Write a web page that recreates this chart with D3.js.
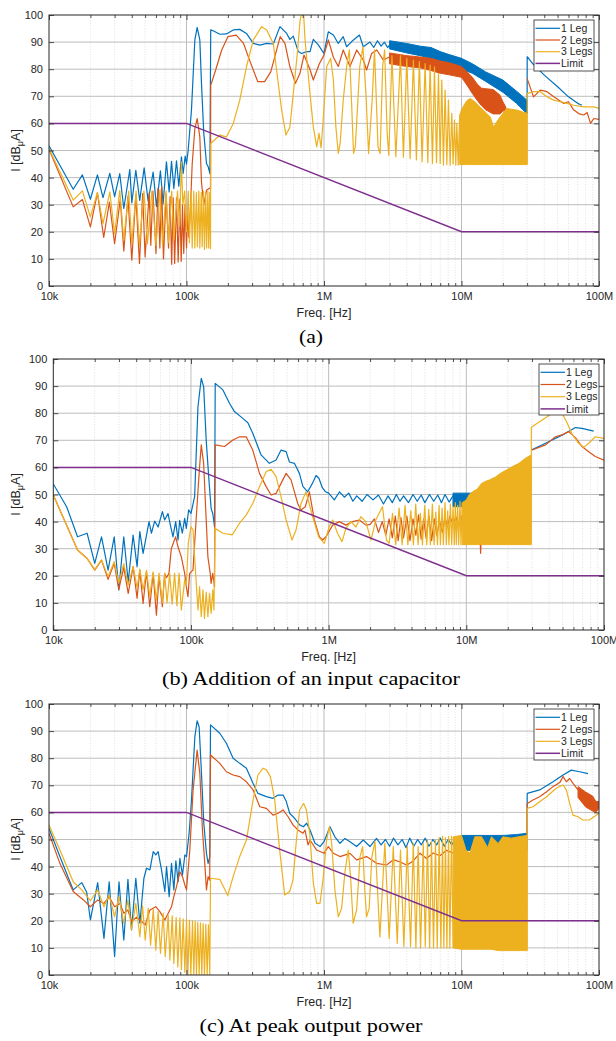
<!DOCTYPE html>
<html>
<head>
<meta charset="utf-8">
<script src="https://d3js.org/d3.v7.min.js"></script>
<style>
body {margin: 0; background: #fff;}
svg text {font-family: "Liberation Sans", Arial, Helvetica, sans-serif; fill: #262626;}
.cap {font-family: "Liberation Serif", "Times New Roman", serif; fill: #000;}
</style>
</head>
<body>
<svg id="fig" width="616" height="1041"></svg>
<script type="text/javascript">
// axis ticks / labels
var freqTicks = [1e4, 1e5, 1e6, 1e7, 1e8];
var freqLabels = ["10k", "100k", "1M", "10M", "100M"];
var levelTicks = [0, 10, 20, 30, 40, 50, 60, 70, 80, 90, 100];
var seriesNames = ["1 Leg", "2 Legs", "3 Legs", "Limit"];
var captions = ["(a)", "(b) Addition of an input capacitor", "(c) At peak output power"];

// limit line (same on all three plots)
var limitLine = [[1e4,60],[1e5,60],[1e7,20],[1e8,20]];

// ---------- (a) ----------
// null = gap, the dense part is in the band arrays [f, low, high]
var a1Line = [[10e3,51.7],[15e3,35.7],[17.5e3,41],[20e3,32],[22.5e3,41],[24.7e3,32.6],[27.7e3,41.6],[30e3,33],[32.7e3,41.5],[35e3,28.6],[38.7e3,43],[40e3,30.7],[42.8e3,42.7],[45.7e3,31.6],[49.2e3,43.6],[52.6e3,31.3],[57.2e3,42],[60.5e3,29.4],[64.6e3,42.5],[67.6e3,30.4],[71.5e3,45.8],[74.8e3,34.7],[77.8e3,46],[80.9e3,36],[84.6e3,46.2],[87.9e3,36.8],[91.9e3,47.7],[94.6e3,41.5],[97.8e3,47.9],[100e3,45],[102.8e3,50],[108.7e3,65],[115e3,90.8],[119.6e3,95.4],[125e3,90.8],[128.5e3,74.8],[133.6e3,56.3],[139.8e3,45.2],[143.8e3,44],[148e3,41.5],[150e3,94.5],[156e3,94.2],[175e3,92.9],[195e3,93],[219e3,94.5],[244e3,94.7],[273e3,93.2],[306e3,89.5],[342e3,88.9],[383e3,89.5],[428e3,89.3],[478e3,95.7],[535e3,93.2],[565e3,91],[598e3,92.2],[650e3,86.5],[687e3,85.8],[748e3,86.5],[791e3,86.5],[836e3,91],[909e3,89],[1.0e6,85.8],[1.075e6,93.8],[1.17e6,92.6],[1.27e6,89.5],[1.38e6,92],[1.46e6,88.3],[1.59e6,90.2],[1.81e6,92.6],[1.93e6,88.3],[2.16e6,90],[2.3e6,88],[2.45e6,90.5],[2.6e6,88.5],[2.75e6,90],[2.9e6,88],[3e6,89],
  null,
  [30e6,63.5],[30.05e6,84.6],[33e6,82],[40e6,77.8],[50e6,73.5],[60e6,69.8],[70e6,67.4],[75e6,66.7]];
var a1Band = [[3e6,87.5,90.5],[4e6,86,89.5],[5e6,85,88.5],[6e6,84,88],[7e6,83,86.5],[8e6,82,85.5],[10e6,80,84],[12e6,78.5,82],[15e6,75.5,79],[20e6,71.5,76],[25e6,67.5,72],[30e6,63.5,68.5]];

var a2Line = [[10e3,50.5],[15e3,29.2],[17.5e3,31.9],[20e3,21.8],[22.5e3,34.4],[25e3,17.9],[27.5e3,31],[30e3,15.6],[33e3,32],[35e3,12.9],[37.5e3,33],[40e3,9.5],[42.8e3,33.5],[45.5e3,8.3],[48e3,34.1],[50e3,10.7],[53.5e3,34.4],[55e3,15],[57e3,35],[60e3,12],[62e3,36],[64e3,14],[66e3,36.6],[68e3,10],[71e3,34],[74e3,14],[76e3,33],[78e3,8],[80e3,32.5],[82e3,8.3],[84.6e3,32.5],[87e3,8.9],[89.4e3,32],[91.5e3,9.1],[93.5e3,30],[95.5e3,12],[97.6e3,30],[100e3,14],[102e3,27],[104e3,18],[107e3,30],[110e3,45],[115e3,58],[119.6e3,61.8],[125e3,55],[128.5e3,38.4],[133.6e3,30],[139.8e3,35.3],[146e3,36],[149.5e3,36],[150e3,74.1],[163e3,79.7],[180e3,87],[200e3,92],[230e3,92.6],[260e3,89.5],[290e3,82.8],[330e3,75.4],[370e3,75.4],[410e3,79],[480e3,92],[520e3,89.5],[565e3,80.9],[620e3,74.8],[668e3,78.4],[715e3,85.2],[790e3,80],[836e3,76],[925e3,82],[1e6,85.2],[1.075e6,90.8],[1.17e6,84.4],[1.27e6,81],[1.38e6,87.1],[1.545e6,81],[1.73e6,87.1],[1.93e6,83.4],[2.04e6,79.7],[2.22e6,85.8],[2.42e6,87.1],[2.7e6,83.4],[3.02e6,84.6],
  null,
  [30e6,76.6],[33.4e6,69.8],[37.4e6,72.3],[41.9e6,71.7],[46.9e6,69.8],[55.1e6,67.4],[60e6,68],[65.3e6,65],[72e6,63.5],[77.4e6,63.1],[82e6,64],[86.8e6,60],[91.7e6,61.8],[100e6,61.5]];
var a2Band = [[3e6,82,86],[4e6,81,85],[5e6,80.5,84.5],[6e6,79.5,84],[7e6,78.5,83],[8e6,78,82.5],[10e6,77,81],[11e6,74,79],[12e6,71,77],[13e6,68.5,74.5],[14e6,66.5,73],[15e6,65,72.8],[17e6,63.5,72.5],[19e6,63.5,70.5],[20e6,64.5,68],[21e6,65,66]];

var a3Line = [[10e3,50.7],[15e3,31.7],[17.5e3,35.1],[20e3,25.5],[22.5e3,34.5],[24.7e3,23],[27.7e3,34.7],[30e3,19.3],[32.7e3,35.3],[35e3,17],[38e3,35],[40e3,15.5],[43e3,35],[45.5e3,15],[49e3,35],[52e3,15.5],[56e3,35],[60e3,15],[64e3,35.5],[67e3,15],[71e3,35],[74e3,16],[78e3,35],[81e3,17],[86e3,35],[89e3,22],[91.9e3,45.8],[94e3,30],[97e3,35],[100e3,20],[103e3,35],[105e3,16],[108e3,35],[110e3,14],[113e3,35],[115e3,14],[118e3,34.5],[120e3,14.5],[123e3,35],[125e3,14],[128e3,34.5],[130e3,14.5],[133e3,35],[135e3,13.5],[138e3,34.5],[140e3,14],[143e3,35],[145e3,14],[147.5e3,34.5],[149.5e3,13.8],[150e3,52.6],[175e3,55.7],[195e3,55],[219e3,60],[244e3,68.6],[273e3,80.9],[306e3,90.8],[352e3,95.7],[383e3,94.5],[428e3,89.5],[452e3,79.7],[492e3,64.9],[529e3,55.7],[565e3,58.7],[598e3,71],[643e3,87.1],[670e3,98],[690e3,101],[710e3,101],[728e3,90.8],[782e3,73.5],[836e3,58.7],[885e3,51.4],[920e3,56.3],[951e3,51],[978e3,58.7],[1.046e6,80.9],[1.118e6,84],[1.17e6,76],[1.22e6,58.7],[1.27e6,48.9],[1.31e6,52.6],[1.38e6,68.6],[1.46e6,80.9],[1.53e6,87.1],[1.59e6,66.5],[1.64e6,48.9],[1.69e6,51.4],[1.82e6,80.9],[1.92e6,88.3],[2.02e6,70.8],[2.11e6,48.9],[2.24e6,68.6],[2.33e6,87.1],[2.47e6,51.4],[2.56e6,48.9],[2.67e6,80.9],[2.76e6,87.1],[2.88e6,56.3],[2.96e6,48.3],[3.12e6,85],[3.33e6,47.7],[3.6e6,85],[3.78e6,47.5],[4.0e6,84],[4.23e6,47],[4.47e6,83.4],[4.7e6,46.5],[4.94e6,82.8],[5.17e6,45.8],[5.44e6,82.1],[5.69e6,45.5],[5.91e6,81.5],[6.15e6,45.2],[6.36e6,80.9],[6.58e6,45.5],[6.8e6,78.4],[7.0e6,45.2],[7.19e6,76],[7.39e6,44.6],[7.6e6,72.3],[7.82e6,44.8],[8.04e6,68.6],[8.27e6,44.6],[8.5e6,63.7],[8.69e6,45],[8.89e6,61.2],[9.09e6,44.6],[9.25e6,60],[9.46e6,44.6],[9.7e6,63],
  null,
  [30e6,44.8],[30.05e6,71],[33.4e6,71.7],[37.4e6,71.7],[41.9e6,69.8],[46.9e6,68.6],[52.5e6,68],[58.5e6,67.4],[65.3e6,66.7],[77.4e6,66.1],[91.7e6,66.1],[100e6,65.5]];
var a3Band = [[9.7e6,44.8,63],[10e6,44.8,65],[10.5e6,44.8,67],[11e6,44.8,68.5],[11.6e6,44.8,69.2],[12.5e6,44.8,68],[13.6e6,44.8,66.1],[15e6,44.8,64],[16.2e6,44.8,62.4],[17.1e6,44.8,58.7],[18e6,44.8,60.5],[19.1e6,44.8,62.4],[21.3e6,44.8,65.5],[25.3e6,44.8,64.9],[30e6,44.8,63.7]];

// ---------- (b) ----------
var b1Line = [[10e3,53.9],[12.5e3,45.5],[15e3,34.4],[17.6e3,35.7],[20e3,24.6],[22.4e3,34.4],[25e3,22.1],[27.7e3,34.4],[29.9e3,14.8],[32.5e3,34.4],[35e3,17.8],[38e3,35],[40.6e3,23.4],[42.5e3,36.3],[44.9e3,28.3],[49.6e3,40],[51.6e3,35.7],[54.5e3,40.2],[57.7e3,38],[62e3,43.7],[64.4e3,40.6],[68.1e3,43],[70e3,40],[74e3,34.4],[77.4e3,40],[80.5e3,33.2],[82.8e3,40.5],[86.5e3,35.7],[90e3,41.2],[92.5e3,37.5],[96.2e3,44.3],[100e3,43],[106.3e3,49.2],[112.4e3,82.4],[118.8e3,92.9],[123.6e3,89.8],[129e3,70.1],[135e3,55.4],[140e3,44.9],[144e3,43],[148.3e3,38.1],[150e3,91],[170.6e3,88.6],[190.7e3,83.6],[207e3,80.6],[238e3,78.1],[259e3,76.5],[281e3,72.6],[323e3,64.6],[371e3,61.5],[415e3,62.7],[451e3,66.4],[491e3,65.8],[519e3,62],[564e3,61.5],[613e3,57.8],[650e3,53],[704e3,51],[760e3,54],[810e3,57],[850e3,56],[900e3,52.5],[950e3,51],[1e6,50.5],[1.1e6,48],[1.2e6,51],[1.3e6,49],[1.4e6,50.5],[1.5e6,47.5],[1.6e6,49.5],[1.75e6,47.5],[1.9e6,50],[2.1e6,48],[2.3e6,49.8],[2.5e6,46.5],[2.7e6,49.5],[2.9e6,47],[3.1e6,50],[3.3e6,47.5],[3.5e6,49.5],[3.8e6,47],[4.1e6,50],[4.4e6,47.5],[4.7e6,49.8],[5e6,47],[5.4e6,50],[5.8e6,47.5],[6.2e6,49.8],[6.6e6,47],[7e6,50],[7.5e6,47.2],[8e6,49.5],
  null,
  [29.6e6,66.4],[37.6e6,68.9],[49.6e6,71.9],[62e6,74.7],[69.2e6,74.4],[84.2e6,73.4]];
var b1Band = [[8e6,45.5,50.5],[10e6,45.5,50.5],[12e6,45.5,50.5],[13e6,46,50]];

var b2Line = [[10e3,49.8],[15e3,29.5],[17.6e3,26.4],[20e3,22.1],[22.4e3,25.8],[25e3,18.7],[27.7e3,24.6],[29.9e3,15],[32.5e3,23.1],[35e3,13.5],[38e3,23.4],[40.6e3,11.7],[42.5e3,22.1],[44.9e3,9.8],[47.5e3,21.5],[50.2e3,8.6],[53.1e3,20.9],[56.1e3,5.5],[58.6e3,19.7],[62e3,8.6],[64.4e3,20.9],[66.3e3,19.3],[69.2e3,20.9],[72e3,30.1],[77.4e3,34.4],[80.5e3,30.7],[85.1e3,27],[90e3,20.9],[92.5e3,16],[95.1e3,12.3],[97.8e3,20.9],[103.4e3,22.1],[110.5e3,45.5],[115.5e3,60.3],[118.8e3,68.3],[123.6e3,61.5],[127.7e3,45.5],[132.7e3,27],[138e3,20.9],[140e3,17.2],[144e3,20.9],[148.3e3,16],[150e3,68.3],[175.4e3,67.7],[201.5e3,70.1],[225.3e3,71.3],[251.8e3,71.3],[281e3,66.4],[314.5e3,57.8],[351.6e3,52.9],[382e3,49.8],[415e3,50.4],[451e3,54.1],[491e3,57.8],[533e3,55.4],[596e3,46.7],[630e3,44.3],[677e3,45.5],[725e3,51],[787e3,40.6],[856e3,34.4],[905e3,33.2],[956e3,34.4],[1.07e6,38.7],[1.195e6,40],[1.335e6,38.7],[1.49e6,40],[1.67e6,40.6],[1.865e6,38.7],[2e6,39],[2.15e6,41],[2.3e6,36],[2.45e6,40],[2.6e6,35],[2.75e6,41],[2.9e6,34],[3.05e6,42],[3.2e6,33],[3.35e6,41.5],[3.5e6,34],[3.7e6,42],[3.9e6,33],[4.1e6,41],[4.3e6,35],[4.5e6,42.5],[4.7e6,33.5],[4.9e6,41],[5.1e6,34],[5.35e6,42],[5.6e6,33],[5.85e6,41],[6.1e6,35],[6.4e6,40],[6.7e6,36],[7e6,41.5],[7.3e6,38],[7.6e6,42],[8e6,39],[8.4e6,41.8],[8.8e6,38],[9.2e6,42],[9.6e6,37],[10e6,41],[11e6,38],[12e6,36],[12.5e6,40],[12.7e6,28.3],[12.9e6,38],[13.5e6,36],
  null,
  [30.1e6,66.4],[37.6e6,68.3],[44.4e6,71.3],[49.6e6,72],[55.4e6,73.2],[62e6,71],[69.2e6,67.7],[77.4e6,65.8],[86.5e6,64],[100e6,62.7]];
var b2Band = [];

var b3Line = [[10e3,49.8],[15e3,29.5],[17.6e3,26.4],[20e3,22.3],[22.4e3,25.8],[25e3,19.7],[27.7e3,25.2],[29.9e3,17.2],[32.5e3,24.5],[35e3,16.6],[38e3,23.5],[40.6e3,15.5],[42.5e3,22.5],[44.9e3,14.8],[47.5e3,22],[50.2e3,12.5],[53.1e3,21.5],[56.1e3,11],[58.6e3,21],[62e3,10],[64.4e3,21],[67e3,10],[70e3,21],[73e3,9.5],[76e3,21],[79e3,9],[82e3,21],[85.1e3,7.4],[90e3,18.5],[92.5e3,16.5],[95.6e3,32],[100e3,38.1],[103.4e3,37],[108.1e3,20.9],[112.4e3,7.4],[115.5e3,16],[118.8e3,4.9],[122.2e3,14.8],[125.3e3,4.3],[129e3,14],[132.7e3,4.9],[136.4e3,13.5],[140e3,6.1],[144e3,14.8],[146.8e3,7.4],[149.5e3,37.5],[170.6e3,35.7],[199.4e3,35.1],[225.3e3,39.4],[251.8e3,42.4],[281e3,46.7],[314.5e3,52.9],[351.6e3,58.4],[382e3,59.3],[415e3,56.6],[451e3,49.2],[491e3,40.6],[542e3,33.2],[580e3,36.9],[630e3,46.7],[685e3,51],[766e3,41.8],[846e3,34.4],[930e3,32],[1.01e6,38.1],[1.07e6,40.6],[1.16e6,35.7],[1.25e6,32.6],[1.335e6,37.5],[1.45e6,40],[1.58e6,38],[1.715e6,41.8],[1.86e6,40],[2.03e6,33.2],[2.2e6,40.6],[2.46e6,45.5],[2.63e6,33.2],[2.75e6,32],[2.91e6,43],[3.07e6,31.5],[3.25e6,45],[3.42e6,31.5],[3.59e6,46],[3.76e6,31.5],[3.95e6,44],[4.13e6,31.5],[4.29e6,46.5],[4.46e6,31.5],[4.64e6,43],[4.8e6,31.5],[4.99e6,46],[5.16e6,31.5],[5.33e6,44.5],[5.48e6,31.5],[5.67e6,46.5],[5.83e6,31.5],[6.0e6,43.5],[6.17e6,31.5],[6.34e6,46],[6.48e6,31.5],[6.67e6,45],[6.81e6,31.5],[7.0e6,47],[7.16e6,31.5],[7.32e6,44],[7.48e6,31.5],[7.66e6,46.5],[7.83e6,31.5],[8.0e6,45.5],[8.18e6,31.5],[8.32e6,47],[8.46e6,31.5],[8.65e6,46],[8.8e6,31.5],[9.0e6,47.5],[9.14e6,31.5],[9.35e6,47],
  null,
  [29.6e6,31.5],[29.65e6,74.8],[38.6e6,78.7],[44e6,81],[49.6e6,80],[53.9e6,76.5],[58.6e6,72.3],[65.5e6,68.9],[71.2e6,67.4],[77.4e6,68.9],[86.5e6,71.3],[100e6,70.7]];
var b3Band = [[9.35e6,31.5,47],[10e6,31.5,48],[10.5e6,31.5,50],[11.1e6,31.5,51],[12e6,31.5,52],[12.9e6,31.5,54.1],[14e6,31.5,55],[14.8e6,31.5,55.4],[16.3e6,31.5,56.5],[17.7e6,31.5,57.8],[19.5e6,31.5,59],[21.6e6,31.5,60.3],[24.1e6,31.5,61.5],[26.9e6,31.5,63.4],[29.6e6,31.5,64.6]];

// ---------- (c) ----------
var c1Line = [[10e3,54.1],[12e3,43.7],[15e3,31.4],[17.3e3,34.1],[18.8e3,30.5],[20e3,20.3],[22.6e3,34.1],[25.1e3,13.5],[27.4e3,34.4],[30e3,6.8],[32.3e3,34.4],[35e3,12.9],[37.5e3,35.3],[39.8e3,16.6],[42.8e3,35.7],[45.8e3,19.1],[49e3,35.7],[51.2e3,39.4],[54.2e3,38.8],[57.3e3,45.5],[59.8e3,44.3],[62.2e3,45.5],[65.8e3,38.8],[69.6e3,30.8],[71.6e3,40],[74.8e3,28.9],[77.8e3,41.2],[80.9e3,31.4],[83.7e3,42.1],[86.9e3,34.4],[89.5e3,43],[93.5e3,36.9],[97.3e3,44.3],[100e3,43.7],[104.5e3,52.3],[108.7e3,64.6],[115e3,87.9],[119.5e3,93.8],[123.6e3,91.5],[128.5e3,74.4],[133.6e3,56],[139.7e3,44.9],[143.6e3,41.2],[147.5e3,43.5],[149.5e3,92.3],[174.6e3,89.2],[195e3,85.5],[218.3e3,80],[243.8e3,78.1],[272.8e3,76.3],[305e3,70.7],[331e3,67],[381e3,65.8],[426e3,65.2],[463e3,66.4],[504e3,66.4],[532e3,64],[563e3,59.7],[612e3,57.8],[665e3,55.4],[708e3,54.7],[748e3,56],[791e3,53.5],[860e3,48.6],[935e3,47.4],[1e6,49.2],[1.105e6,54.7],[1.2e6,51],[1.307e6,48.6],[1.42e6,50.4],[1.545e6,49.2],[1.727e6,47.4],[1.93e6,49.8],[2.16e6,47.4],[2.41e6,50.4],[2.6e6,48],[2.8e6,50],[3e6,47.5],[3.2e6,50.5],[3.45e6,48],[3.7e6,50],[3.95e6,47],[4.2e6,50.5],[4.5e6,47.5],[4.8e6,50],[5.1e6,48],[5.45e6,50.5],[5.8e6,47.5],[6.2e6,50],[6.6e6,48],[7e6,50.5],[7.5e6,47.5],[8e6,50],[8.5e6,48],[9e6,50.5],[9.5e6,48],[10e6,49],
  null,
  [30e6,52.3],[30.05e6,67],[37e6,68.3],[46.3e6,71.3],[54.8e6,73.8],[62.9e6,75.6],[72.3e6,75],[83.2e6,74.3]];
var c1Band = [[10e6,46,51.5],[15e6,46,51.5],[20e6,46,51.5],[25e6,46,51.8],[30e6,46,52.3]];

var c2Line = [[10e3,52.3],[12e3,41.2],[15e3,30.8],[17.8e3,27.7],[20e3,25.2],[22.6e3,27.7],[25.1e3,26.4],[27.4e3,28.9],[30e3,25.2],[32.8e3,26.4],[35e3,22.8],[37.5e3,24],[39.8e3,19.7],[43.3e3,21.3],[45.8e3,20.3],[50.1e3,18.5],[54.2e3,24],[59.8e3,25.2],[64e3,23.4],[69.6e3,20.3],[73.6e3,22.8],[77.8e3,25.2],[80.9e3,28.9],[84.6e3,32.6],[89.5e3,38.1],[93.5e3,36.3],[97.3e3,33.2],[100e3,31.4],[105.7e3,46.1],[111.7e3,68.3],[119.5e3,83],[125e3,74.4],[130.6e3,53.5],[135.8e3,41.2],[139.7e3,31.4],[143.6e3,36.3],[147.5e3,35],[149.5e3,81.2],[174.6e3,78.1],[195e3,75],[218.3e3,73.8],[243.8e3,73.2],[272.8e3,71.3],[305e3,68.3],[341e3,62.1],[381e3,61.5],[426e3,59],[463e3,59.7],[504e3,60.9],[548e3,58.4],[595e3,55.4],[647e3,53.5],[703e3,52.3],[728e3,53.5],[765e3,48],[791e3,49.8],[884e3,46.1],[1e6,44.9],[1.075e6,47.4],[1.17e6,44.9],[1.307e6,43.7],[1.545e6,44.9],[1.727e6,42.5],[2.04e6,43.7],[2.41e6,41.2],[2.85e6,40.6],[3.2e6,42.5],[3.56e6,41.8],[4e6,40.5],[4.45e6,42.1],[4.98e6,44.9],[5.57e6,43],[6.22e6,45],[6.96e6,44],[7.78e6,46],[8.7e6,45],[10e6,47],
  null,
  [30e6,52],[30.05e6,63.3],[33.1e6,64.6],[37e6,65.8],[41.4e6,67.5],[46.3e6,69.5],[51.8e6,71],[54.8e6,73.2],[57.9e6,71.3],[61.2e6,72.5],[64.7e6,70.7],[70.4e6,68.3]];
var c2Band = [[70.4e6,65.5,69.5],[80e6,62,67.5],[90e6,60.5,66],[95e6,60,64],[100e6,61.5,64]];

var c3Line = [[10e3,55.4],[12e3,46.1],[15e3,34.4],[17.3e3,31.4],[20e3,27.4],[22.6e3,31.4],[25.1e3,25.2],[27.4e3,29.5],[30e3,21.5],[32.3e3,28.9],[35e3,19.1],[37.5e3,27.7],[39.8e3,16.6],[42.8e3,26.4],[45.8e3,14.1],[47.9e3,25.5],[50.1e3,12.9],[52.7e3,24.6],[54.8e3,11],[57.3e3,24.2],[59.8e3,9.2],[62.2e3,23.4],[64.7e3,8],[67.7e3,22.8],[70e3,6.8],[73.6e3,22.1],[75.7e3,5.5],[78.7e3,21.8],[80.9e3,4.3],[84.1e3,21.2],[86.5e3,3],[89.5e3,21],[91.9e3,2],[94.6e3,20.7],[97.3e3,1],[100e3,20.5],[102.3e3,0],[105.1e3,20.3],[107.5e3,0],[110.6e3,20],[113e3,0],[115.6e3,19.7],[118.2e3,0],[120.8e3,19.4],[123.6e3,0],[126.4e3,19.2],[129.2e3,0],[132.1e3,19],[135.1e3,0],[138.2e3,18.7],[141.3e3,0],[144.5e3,18.5],[147.7e3,0],[149.5e3,35.7],[174.6e3,35.3],[199.6e3,29.3],[218.3e3,36.3],[243.8e3,43.7],[272.8e3,49.8],[305e3,64.6],[331e3,73.8],[360.6e3,76.3],[381e3,75.7],[407.6e3,73.2],[438e3,64.6],[476e3,46.1],[517.6e3,29.5],[563e3,30.8],[595e3,35.1],[630e3,49.8],[665e3,60.9],[711e3,63.3],[745e3,60.9],[787e3,52.3],[837e3,33.8],[884e3,26.4],[935e3,26.4],[989e3,36.3],[1.045e6,49.8],[1.093e6,54.7],[1.137e6,48.6],[1.2e6,31.4],[1.27e6,21.5],[1.344e6,24.6],[1.42e6,38],[1.5e6,46.1],[1.56e6,36.3],[1.63e6,19.1],[1.727e6,24],[1.83e6,43.7],[1.91e6,47.4],[1.98e6,31.4],[2.04e6,21.5],[2.13e6,24.6],[2.23e6,43.7],[2.35e6,49.2],[2.55e6,14],[2.77e6,48.6],[2.98e6,13.5],[3.19e6,47.4],[3.41e6,11.7],[3.6e6,46.1],[3.81e6,10.5],[4.03e6,47.4],[4.26e6,10.5],[4.46e6,48.6],[4.66e6,10],[4.84e6,47.4],[5.04e6,10],[5.27e6,48.6],[5.45e6,10.5],[5.66e6,49.8],[5.86e6,10],[6.05e6,49.2],[6.26e6,10],[6.47e6,49.8],[6.66e6,10],[6.88e6,50.7],[7.08e6,10],[7.28e6,51.2],[7.44e6,10],[7.65e6,50.7],[7.83e6,10],[8.05e6,51.2],[8.23e6,10],[8.46e6,51.2],[8.7e6,10],
  null,
  [30e6,9],[30.05e6,61.5],[33.1e6,62.1],[37e6,63.9],[41.4e6,65.7],[48.8e6,68.9],[54.8e6,70.1],[57.9e6,68.3],[61.2e6,63.3],[64.7e6,59],[70.4e6,58.4],[76.1e6,57.2],[85.1e6,57.2],[100e6,59.7]];
var c3Band = [[8.7e6,10,51],[10e6,9.5,51.5],[10.8e6,9.5,46],[11.5e6,9.5,45],[12.5e6,9.5,51],[14e6,9.5,51],[15.5e6,9.5,47],[16.5e6,9.5,51],[18.5e6,9,48.5],[20e6,9,51],[23e6,9,50.5],[26e6,9,51],[30e6,9,51.5]];

var colors = ["#0072BD", "#D95319", "#EDB120", "#7E2F8E"];

var panels = [
	{box: [49, 15, 599, 286], lines: [a1Line, a2Line, a3Line], bands: [a1Band, a2Band, a3Band], cap: captions[0], capY: 343, capW: 24, legStep: 11.7},
	{box: [53.3, 359, 604, 630], lines: [b1Line, b2Line, b3Line], bands: [b1Band, b2Band, b3Band], cap: captions[1], capY: 685, capW: 298, legStep: 12.2},
	{box: [49, 704, 599, 975], lines: [c1Line, c2Line, c3Line], bands: [c1Band, c2Band, c3Band], cap: captions[2], capY: 1032, capW: 223, legStep: 12}
];

var svg = d3.select("#fig");

panels.forEach(function(p, pi) {
	var L = p.box[0], T = p.box[1], R = p.box[2], B = p.box[3];
	var x = d3.scaleLog().domain([1e4, 1e8]).range([L, R]);
	var y = d3.scaleLinear().domain([0, 100]).range([B, T]);
	var g = svg.append("g");

	var minor = x.ticks().filter(function(t) { return freqTicks.indexOf(t) < 0; });

	// grid
	g.selectAll(".mgx").data(minor).enter().append("line")
		.attr("x1", function(d) { return x(d); }).attr("x2", function(d) { return x(d); })
		.attr("y1", T).attr("y2", B)
		.attr("stroke", "#d4d4d4").attr("stroke-width", 0.7).attr("stroke-dasharray", "1,1.6");
	g.selectAll(".gx").data(freqTicks.slice(1, 4)).enter().append("line")
		.attr("x1", function(d) { return x(d); }).attr("x2", function(d) { return x(d); })
		.attr("y1", T).attr("y2", B)
		.attr("stroke", "#bdbdbd").attr("stroke-width", 1);
	g.selectAll(".gy").data(levelTicks.slice(1, 10)).enter().append("line")
		.attr("x1", L).attr("x2", R)
		.attr("y1", function(d) { return y(d); }).attr("y2", function(d) { return y(d); })
		.attr("stroke", "#bdbdbd").attr("stroke-width", 1);

	// data
	var clipId = "clip" + pi;
	svg.append("clipPath").attr("id", clipId).append("rect")
		.attr("x", L).attr("y", T).attr("width", R - L).attr("height", B - T);
	var dg = g.append("g").attr("clip-path", "url(#" + clipId + ")");

	var line = d3.line().defined(function(d) { return d !== null; })
		.x(function(d) { return x(d[0]); }).y(function(d) { return y(d[1]); });
	var area = d3.area()
		.x(function(d) { return x(d[0]); })
		.y0(function(d) { return y(d[1]); }).y1(function(d) { return y(d[2]); });

	for (var s = 0; s < 3; s++) {
		if (p.bands[s].length) {
			dg.append("path").attr("d", area(p.bands[s]))
				.attr("fill", colors[s]).attr("stroke", colors[s]).attr("stroke-width", 1);
		}
		dg.append("path").attr("d", line(p.lines[s]))
			.attr("fill", "none").attr("stroke", colors[s]).attr("stroke-width", 1.2)
			.attr("stroke-linejoin", "round");
	}
	dg.append("path").attr("d", line(limitLine))
		.attr("fill", "none").attr("stroke", colors[3]).attr("stroke-width", 1.5);

	// axes (ticks inward)
	var ax = g.append("g").attr("transform", "translate(0," + B + ")")
		.call(d3.axisBottom(x).tickValues(freqTicks).tickSizeInner(-5).tickSizeOuter(0).tickPadding(6)
			.tickFormat(function(d, i) { return freqLabels[i]; }));
	g.append("g").attr("transform", "translate(0," + B + ")")
		.call(d3.axisBottom(x).tickValues(minor).tickSizeInner(-3).tickSizeOuter(0).tickFormat(""));
	g.append("g").attr("transform", "translate(0," + T + ")")
		.call(d3.axisTop(x).tickValues(freqTicks).tickSizeInner(-5).tickSizeOuter(0).tickFormat(""));
	g.append("g").attr("transform", "translate(0," + T + ")")
		.call(d3.axisTop(x).tickValues(minor).tickSizeInner(-3).tickSizeOuter(0).tickFormat(""));
	g.append("g").attr("transform", "translate(" + L + ",0)")
		.call(d3.axisLeft(y).tickValues(levelTicks).tickSizeInner(-5).tickSizeOuter(0).tickPadding(6));
	g.append("g").attr("transform", "translate(" + R + ",0)")
		.call(d3.axisRight(y).tickValues(levelTicks).tickSizeInner(-5).tickSizeOuter(0).tickFormat(""));
	g.selectAll(".domain").remove();
	g.selectAll(".tick line").attr("stroke", "#262626").attr("stroke-width", 0.8);
	g.selectAll(".tick text").attr("font-size", 11).attr("fill", "#262626")
		.attr("font-family", "'Liberation Sans', Arial, sans-serif");

	g.append("rect").attr("x", L).attr("y", T).attr("width", R - L).attr("height", B - T)
		.attr("fill", "none").attr("stroke", "#262626").attr("stroke-width", 1);

	// axis labels
	g.append("text").attr("x", (L + R) / 2).attr("y", B + 31)
		.attr("text-anchor", "middle").attr("font-size", 12.5).text("Freq. [Hz]");
	var yl = g.append("text").attr("transform", "translate(20," + ((T + B) / 2) + ") rotate(-90)")
		.attr("text-anchor", "middle").attr("font-size", 12.5);
	yl.append("tspan").text("I [dB");
	yl.append("tspan").attr("font-size", 9).attr("dy", 2.5).text("\u03bc");
	yl.append("tspan").attr("dy", -2.5).text("A]");

	// legend
	var lx = R - 65, ly = T + 5;
	var lg = g.append("g");
	lg.append("rect").attr("x", lx).attr("y", ly).attr("width", 60).attr("height", 51)
		.attr("fill", "#fff").attr("stroke", "#262626").attr("stroke-width", 0.8);
	seriesNames.forEach(function(name, i) {
		var yy = ly + 8.3 + i * p.legStep;
		lg.append("line").attr("x1", lx + 1.5).attr("x2", lx + 26).attr("y1", yy).attr("y2", yy)
			.attr("stroke", colors[i]).attr("stroke-width", i == 3 ? 1.5 : 1.2);
		lg.append("text").attr("x", lx + 27).attr("y", yy).attr("dy", "0.35em")
			.attr("font-size", 10.5).text(name);
	});

	// caption
	svg.append("text").attr("class", "cap").attr("x", 311).attr("y", p.capY)
		.attr("text-anchor", "middle").attr("font-size", 18)
		.attr("textLength", p.capW).attr("lengthAdjust", "spacingAndGlyphs")
		.text(p.cap);
});
</script>
</body>
</html>
